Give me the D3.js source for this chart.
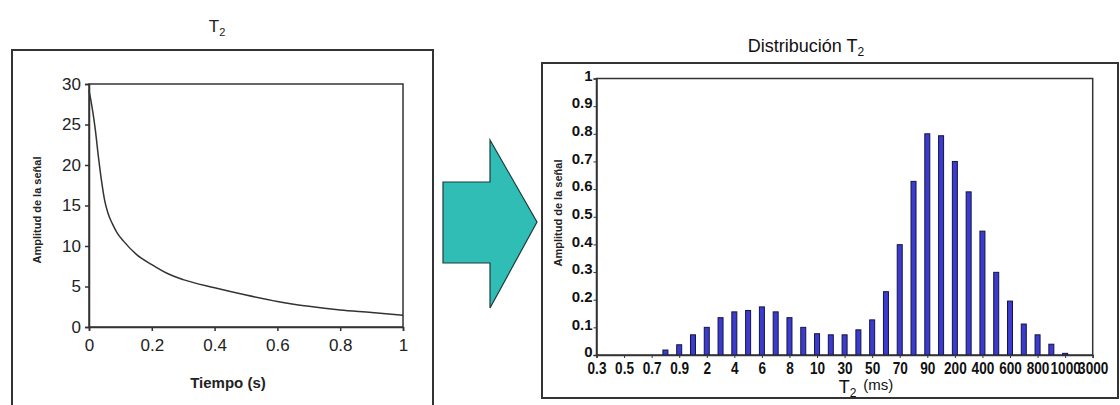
<!DOCTYPE html>
<html lang="es">
<head>
  <meta charset="UTF-8">
  <title>T2 - Distribución T2</title>
  <script src="https://d3js.org/d3.v7.min.js"></script>
  <style>
    body { margin: 0; background: #fff; }
    svg { font-family: "Liberation Sans", Arial, sans-serif; }
  </style>
</head>
<body>
  <div id="chart"></div>
  <script>
    // left panel: decay curve
    const tiempo = [0, 0.005, 0.012, 0.02, 0.03, 0.04, 0.05, 0.06, 0.075, 0.09, 0.11, 0.15, 0.2, 0.25, 0.3, 0.4, 0.5, 0.6, 0.7, 0.8, 0.9, 1.0];
    const amplitud = [29.2, 28.2, 26.6, 24.4, 21.0, 18.0, 15.6, 14.1, 12.7, 11.6, 10.6, 9.0, 7.7, 6.6, 5.85, 4.85, 3.95, 3.15, 2.55, 2.1, 1.8, 1.45];
    const yTicksLeft = [0, 5, 10, 15, 20, 25, 30];
    const xTicksLeft = [0, 0.2, 0.4, 0.6, 0.8, 1];

    // right panel: T2 distribution
    const categorias = ["0.3","0.4","0.5","0.6","0.7","0.8","0.9","1","2","3","4","5","6","7","8","9",
      "10","20","30","40","50","60","70","80","90","100","200","300","400","500","600","700","800","900",
      "1000","2000","3000"];
    const valores = [0, 0, 0, 0, 0, 0.018, 0.037, 0.073, 0.10, 0.135, 0.156, 0.161, 0.174, 0.156, 0.135, 0.10,
      0.077, 0.073, 0.073, 0.091, 0.127, 0.229, 0.399, 0.628, 0.80, 0.793, 0.70, 0.59, 0.448, 0.299, 0.195,
      0.112, 0.073, 0.039, 0.006, 0, 0];
    const etiquetasX = ["0.3","0.5","0.7","0.9","2","4","6","8","10","30","50","70","90","200","400","600","800","1000","3000"];
    const yTicksRight = [0, 0.1, 0.2, 0.3, 0.4, 0.5, 0.6, 0.7, 0.8, 0.9, 1];

    const svg = d3.select("#chart").append("svg")
      .attr("width", 1120)
      .attr("height", 405);

    // outer frames
    svg.append("path")
      .attr("d", "M12,405 L12,50 L433,50 L433,405")
      .attr("fill", "none").attr("stroke", "#333").attr("stroke-width", 2);
    svg.append("rect")
      .attr("x", 542).attr("y", 63).attr("width", 576).attr("height", 335)
      .attr("fill", "none").attr("stroke", "#333").attr("stroke-width", 2);

    // ---- left chart ----
    const xL = d3.scaleLinear().domain([0, 1]).range([89, 403]);
    const yL = d3.scaleLinear().domain([0, 30]).range([327, 84]);

    svg.append("text").attr("x", 217).attr("y", 32).attr("text-anchor", "middle")
      .attr("font-size", 17).attr("fill", "#222")
      .html('T<tspan font-size="11" dy="4">2</tspan>');

    svg.append("rect")
      .attr("x", xL(0)).attr("y", yL(30))
      .attr("width", xL(1) - xL(0)).attr("height", yL(0) - yL(30))
      .attr("fill", "none").attr("stroke", "#333").attr("stroke-width", 1.5);

    const gyL = svg.append("g").attr("transform", `translate(${xL(0)},0)`)
      .call(d3.axisLeft(yL).tickValues(yTicksLeft).tickSize(4).tickPadding(4).tickFormat(d3.format("d")));
    const gxL = svg.append("g").attr("transform", `translate(0,${yL(0)})`)
      .call(d3.axisBottom(xL).tickValues(xTicksLeft).tickSize(4).tickPadding(8)
        .tickFormat(d => d === 0 || d === 1 ? d : d3.format(".1f")(d)));
    [gyL, gxL].forEach(g => {
      g.select(".domain").attr("stroke", "#333").attr("stroke-width", 1.5);
      g.selectAll(".tick line").attr("stroke", "#333").attr("stroke-width", 1.5);
      g.selectAll("text").attr("font-size", 17).attr("fill", "#222")
        .attr("font-family", "'Liberation Sans', Arial, sans-serif");
    });

    const line = d3.line()
      .x((d, i) => xL(tiempo[i]))
      .y(d => yL(d))
      .curve(d3.curveMonotoneX);
    svg.append("path").datum(amplitud)
      .attr("d", line)
      .attr("fill", "none").attr("stroke", "#333").attr("stroke-width", 1.5);

    svg.append("text").attr("x", 228).attr("y", 388).attr("text-anchor", "middle")
      .attr("font-size", 15).attr("font-weight", "bold").attr("fill", "#222")
      .text("Tiempo (s)");
    svg.append("text")
      .attr("transform", "translate(41,210) rotate(-90)")
      .attr("text-anchor", "middle").attr("font-size", 11).attr("font-weight", "bold").attr("fill", "#222")
      .text("Amplitud de la señal");

    // ---- arrow ----
    const flecha = [[443, 182], [490, 182], [490, 140], [537, 222], [490, 308], [490, 263], [443, 263]];
    svg.append("path")
      .attr("d", d3.line()(flecha) + "Z")
      .attr("fill", "#2fbdb6").attr("stroke", "#1d3b3b").attr("stroke-width", 1.2);

    // ---- right chart ----
    const xR = d3.scalePoint().domain(categorias).range([596.5, 1092.7]).padding(0);
    const yR = d3.scaleLinear().domain([0, 1]).range([355, 78.5]);

    svg.append("text").attr("x", 806).attr("y", 52).attr("text-anchor", "middle")
      .attr("font-size", 18).attr("fill", "#111")
      .html('Distribución T<tspan font-size="12" dy="4">2</tspan>');

    svg.append("rect")
      .attr("x", xR.range()[0]).attr("y", yR(1))
      .attr("width", xR.range()[1] - xR.range()[0]).attr("height", yR(0) - yR(1))
      .attr("fill", "none").attr("stroke", "#333").attr("stroke-width", 1.5);

    svg.append("g").selectAll("rect")
      .data(valores.map((v, i) => ({ c: categorias[i], v })).filter(d => d.v > 0))
      .join("rect")
      .attr("x", d => xR(d.c) - 2.5)
      .attr("y", d => yR(d.v))
      .attr("width", 5)
      .attr("height", d => yR(0) - yR(d.v))
      .attr("fill", "#3b3bd0")
      .attr("stroke", "#141440")
      .attr("stroke-width", 1);

    const gyR = svg.append("g").attr("transform", `translate(${xR.range()[0]},0)`)
      .call(d3.axisLeft(yR).tickValues(yTicksRight).tickSize(3).tickPadding(1)
        .tickFormat(d => d === 0 || d === 1 ? d : d3.format(".1f")(d)));
    const gxR = svg.append("g").attr("transform", `translate(0,${yR(0)})`)
      .call(d3.axisBottom(xR).tickValues(etiquetasX).tickSize(3).tickPadding(4));
    [gyR, gxR].forEach(g => {
      g.select(".domain").attr("stroke", "#333").attr("stroke-width", 1.5);
      g.selectAll(".tick line").attr("stroke", "#333");
      g.selectAll("text").attr("fill", "#111")
        .attr("font-family", "'Liberation Sans', Arial, sans-serif");
    });
    gyR.selectAll("text").attr("font-size", 15).attr("font-weight", "bold").attr("dy", "0.12em");
    // narrow, crowded labels like the original
    gxR.selectAll("text").attr("font-size", 17).attr("font-weight", "bold")
      .attr("transform", "scale(0.8,1)");

    svg.append("text").attr("x", 866).attr("y", 393).attr("text-anchor", "middle")
      .attr("font-size", 18).attr("fill", "#111")
      .html('T<tspan font-size="12" dy="4">2</tspan><tspan font-size="15" dy="-7" dx="7">(ms)</tspan>');
    svg.append("text")
      .attr("transform", "translate(562,213) rotate(-90)")
      .attr("text-anchor", "middle").attr("font-size", 11).attr("font-weight", "bold").attr("fill", "#222")
      .text("Amplitud de la señal");
  </script>
</body>
</html>
